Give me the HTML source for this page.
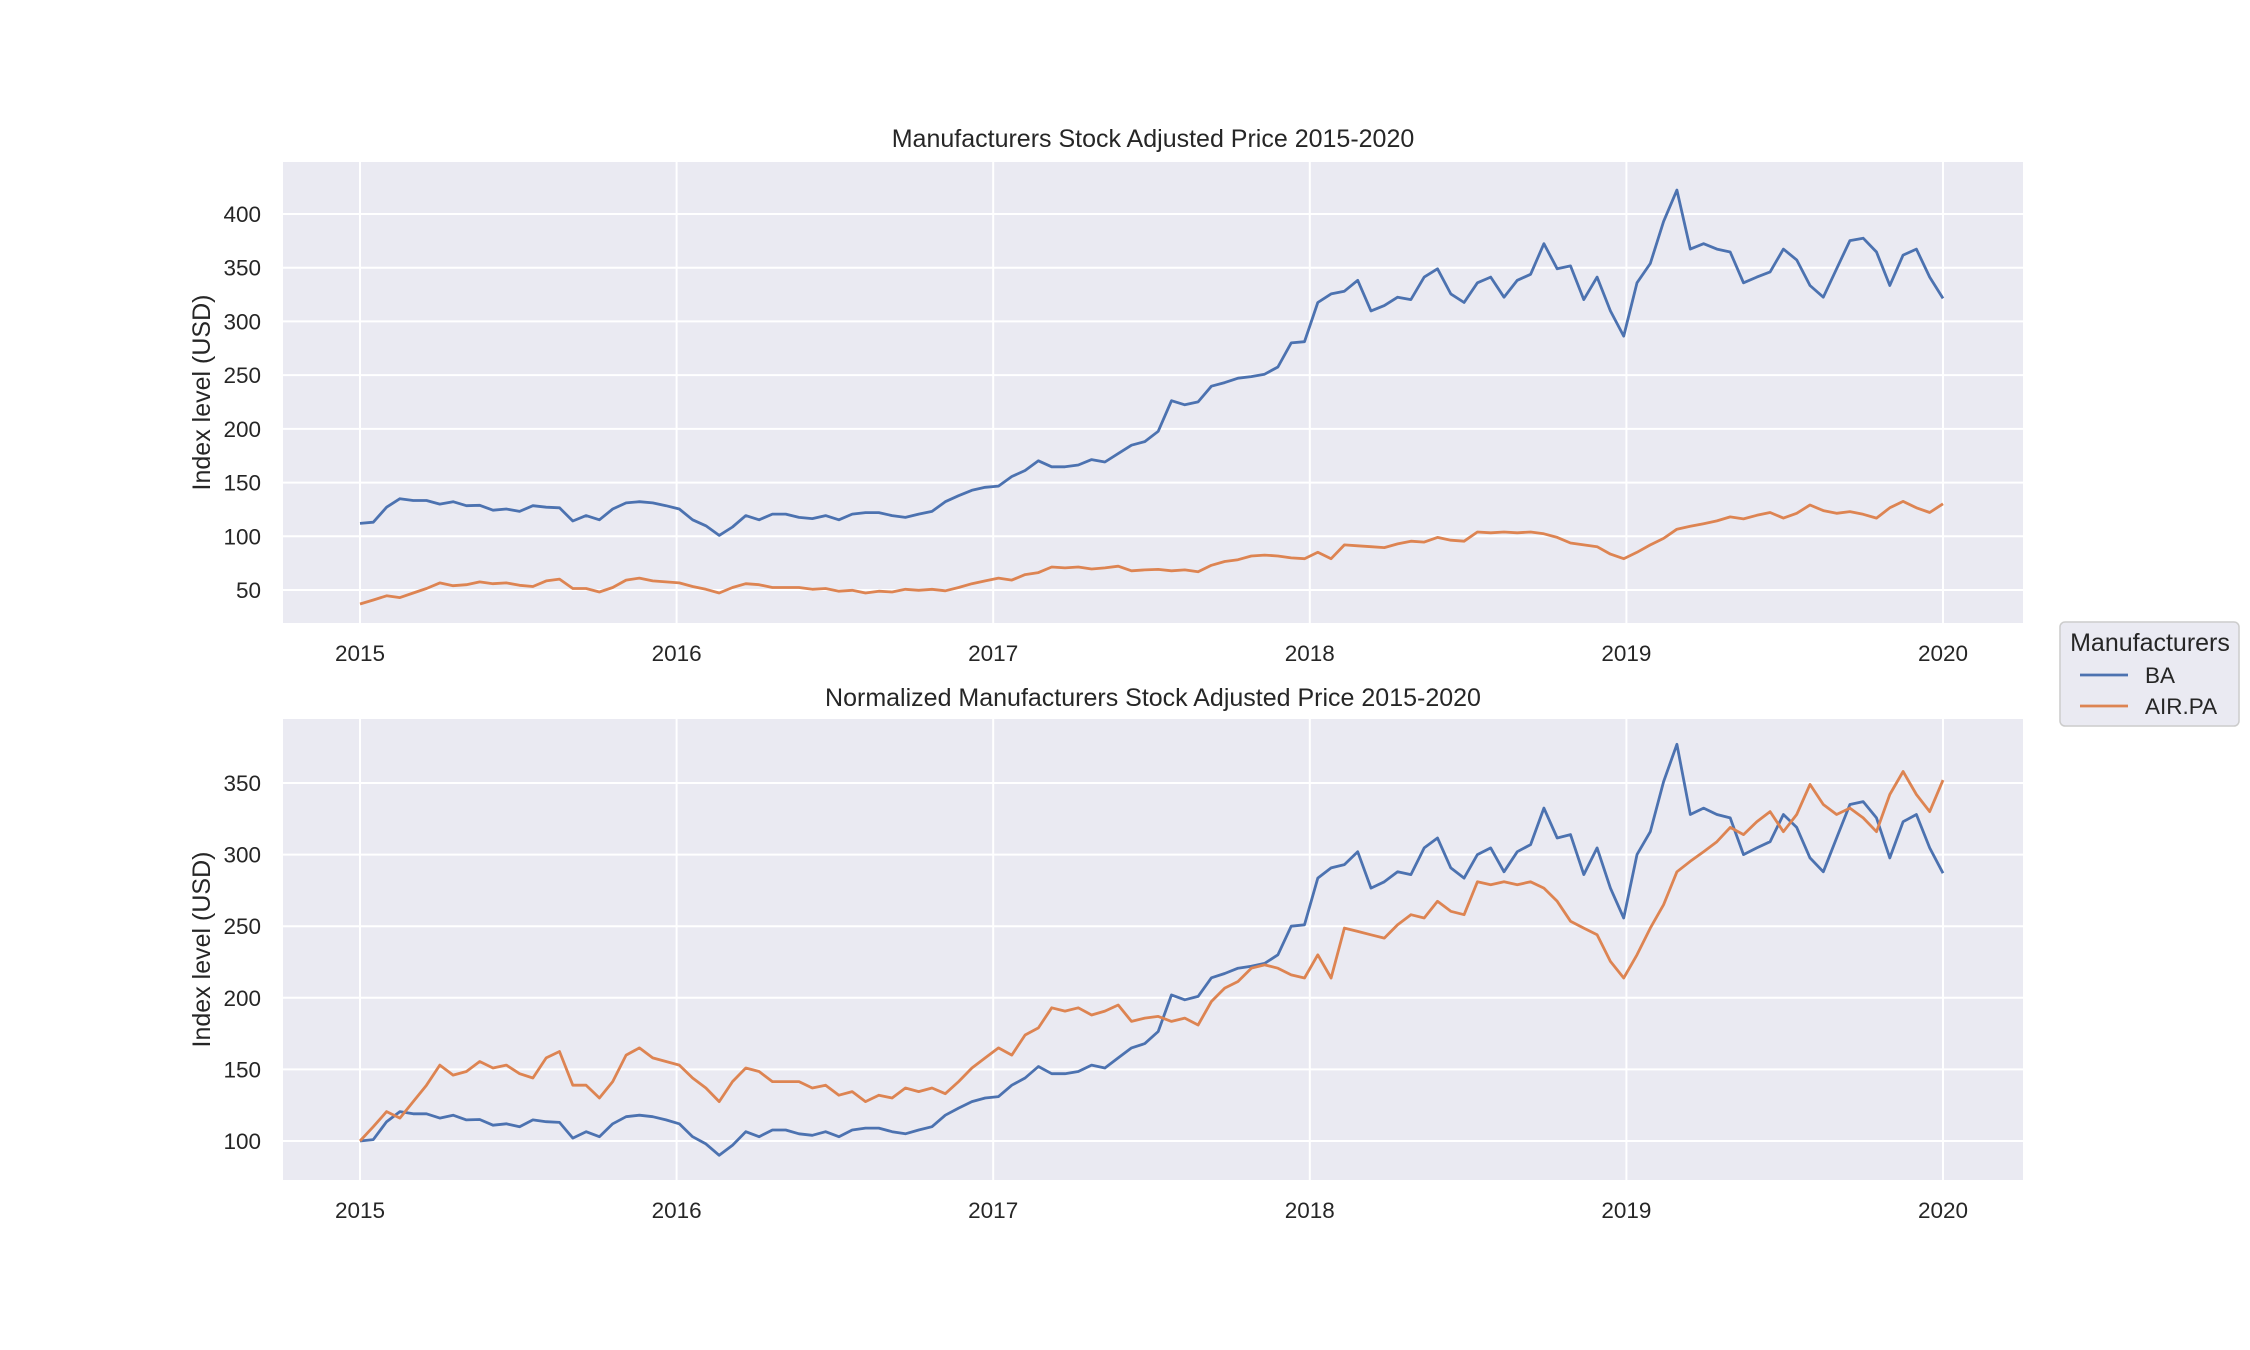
<!DOCTYPE html>
<html><head><meta charset="utf-8">
<style>
html,body{margin:0;padding:0;background:#fff;}
svg{display:block;font-family:"Liberation Sans",Arial,sans-serif;}
</style></head>
<body>
<svg id="chart" width="2250" height="1350" viewBox="0 0 2250 1350"></svg>
<script>
// ---- data (semi-monthly samples, 2015.0 .. 2020.0) ----
const startYear = 2015;
const endYear = 2020;
const baBase = 112;   // BA adjusted price at start (USD)
const airBase = 37;   // AIR.PA adjusted price at start
const baNormalized = [100,101,113.5,120.5,119,119,116,118,114.7,115,111,112,110,114.7,113.5,113,102,106.5,103,112,117,118,117,114.7,
112,103,98,90,97,106.5,103,107.7,107.7,105,104,106.5,103,107.7,109,109,106.5,105,107.7,110,118,123,127.5,130,
131,139,144,152,147,147,148.5,153,151,158,165,168,176.5,202,198.6,201,214,217,220.7,222,224,230,250,251,
283.6,290.7,293,302,276.6,281,288,286,304.7,311.6,290.7,283.6,300,304.7,288,302,307,332.5,311.6,314,286,304.7,276.6,255.7,
300,316,351,377,328,332.5,328,325.6,300,304.7,309,328,319,297.7,288,311.6,335,337,325.6,297.7,323,328,304.7,287];
const airNormalized = [100,110,120.5,116,127.5,139,153,146,148.5,155.5,151,153,147,144,158,162.5,139,139,130,141.5,160,165,158,155.5,
153,144,137,127.5,141.5,151,148.5,141.5,141.5,141.5,137,139,132,134.5,127.5,132,130,137,134.5,137,133,141.5,151,158,
165,160,174,179,193,190.7,193,188,190.7,195,183.5,185.8,187,183.5,185.8,181,197.4,206.8,211.4,220.7,223,220.7,216,213.8,
230,213.8,248.7,246.4,244,241.7,251,258,255.7,267.4,260.4,258,281,279,281,279,281,276.6,267.4,253.5,248.7,244,225.4,213.8,
230,248.7,265,288,295.3,302,309,319,314,323,330,316,328,349,335,328,332.5,325.6,316,342,358,342,330,352];
const xTickYears = [2015,2016,2017,2018,2019,2020];
const topYTicks = [50,100,150,200,250,300,350,400];
const botYTicks = [100,150,200,250,300,350];
const seriesNames = ["BA","AIR.PA"];
const seriesColors = ["#4c72b0","#dd8452"];

const NS = "http://www.w3.org/2000/svg";
const svg = document.getElementById("chart");
function mk(tag, attrs, parent){const e=document.createElementNS(NS,tag);for(const k in attrs)e.setAttribute(k,attrs[k]);(parent||svg).appendChild(e);return e;}

const X0=283, X1=2023;
function xScale(year){return 360 + (year-2015)*(1943-360)/5;}
function sampleYear(i,n){return startYear + i*(endYear-startYear)/(n-1);}
const panels = [
  {name:"raw", top:162, bottom:623, title:"Manufacturers Stock Adjusted Price 2015-2020", titleY:147, tickLabelY:661,
   ticks:topYTicks, y:v=>214+(400-v)*(590-214)/350,
   series:[baNormalized.map(v=>v*baBase/100), airNormalized.map(v=>v*airBase/100)]},
  {name:"normalized", top:719, bottom:1180, title:"Normalized Manufacturers Stock Adjusted Price 2015-2020", titleY:706, tickLabelY:1218,
   ticks:botYTicks, y:v=>1141-(v-100)*(1141-783)/250,
   series:[baNormalized, airNormalized]}
];

panels.forEach(p=>{
  const g = mk("g",{});
  
  
  const bg = mk("rect",{x:X0,y:p.top,width:X1-X0,height:p.bottom-p.top,fill:"#eaeaf2"},g);
  
  
  p.ticks.forEach(t=>{
    const yy=p.y(t);
    const gl = mk("line",{x1:X0,x2:X1,y1:yy,y2:yy,stroke:"#fff","stroke-width":2},g);
    
    
    const tl = mk("text",{x:261,y:yy+8,"text-anchor":"end","font-size":22.5,fill:"#262626"},g);
    tl.textContent=t;
    
    
  });
  xTickYears.forEach(yr=>{
    const xx=xScale(yr);
    const gl = mk("line",{x1:xx,x2:xx,y1:p.top,y2:p.bottom,stroke:"#fff","stroke-width":2},g);
    
    
    const tl = mk("text",{x:xx,y:p.tickLabelY,"text-anchor":"middle","font-size":22.5,fill:"#262626"},g);
    tl.textContent=yr;
    
    
  });
  p.series.forEach((vals,si)=>{
    const pts = vals.map((v,i)=>xScale(sampleYear(i,vals.length)).toFixed(1)+","+p.y(v).toFixed(1)).join(" ");
    const pl = mk("polyline",{points:pts,fill:"none",stroke:seriesColors[si],"stroke-width":2.8,"stroke-linejoin":"round"},g);
    
    
  });
  const ti = mk("text",{x:(X0+X1)/2,y:p.titleY,"text-anchor":"middle","font-size":25,fill:"#262626"},g);
  ti.textContent=p.title;
  
  
  const cy=(p.top+p.bottom)/2;
  const yl = mk("text",{x:0,y:0,"text-anchor":"middle","font-size":25,fill:"#262626",transform:`translate(210,${cy}) rotate(-90)`},g);
  yl.textContent="Index level (USD)";
  
  
});

// legend
const lg = mk("g",{});


mk("rect",{x:2060,y:622,width:179,height:104,rx:5,fill:"#eaeaf2",stroke:"#cccccc","stroke-width":1.5},lg);
const lt = mk("text",{x:2150,y:651,"text-anchor":"middle","font-size":25,fill:"#262626"},lg);
lt.textContent="Manufacturers";


seriesNames.forEach((n,i)=>{
  const yy=675+i*31;
  const e = mk("g",{},lg);
  
  
  mk("line",{x1:2080,x2:2128,y1:yy,y2:yy,stroke:seriesColors[i],"stroke-width":2.8},e);
  const t = mk("text",{x:2145,y:yy+8,"font-size":22.5,fill:"#262626"},e);
  t.textContent=n;
});
</script>
</body></html>
